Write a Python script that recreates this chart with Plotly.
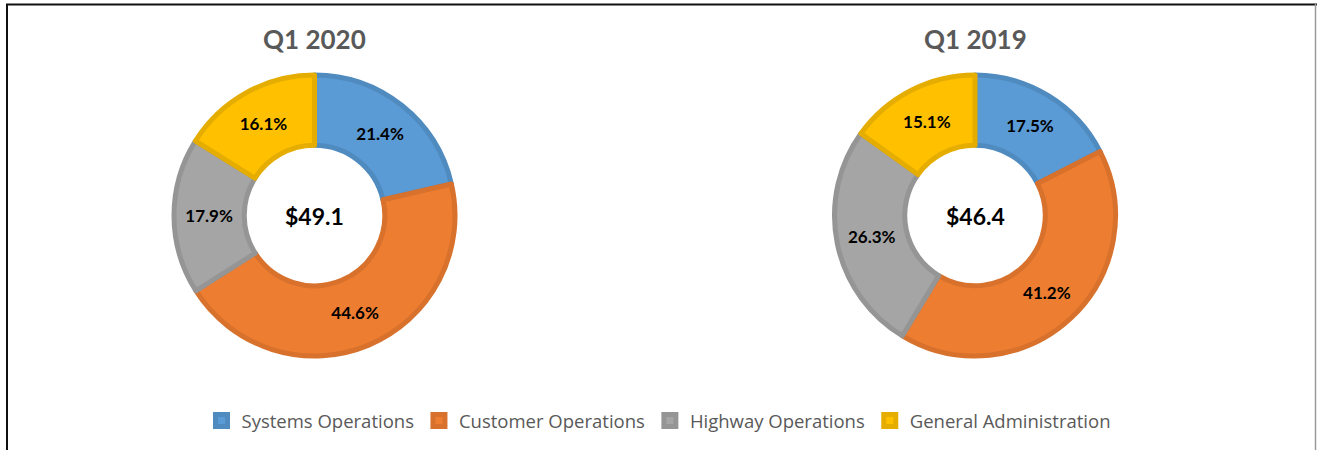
import plotly.graph_objects as go

categories = ["Systems Operations", "Customer Operations", "Highway Operations", "General Administration"]
q1_2020 = [21.4, 44.6, 17.9, 16.1]
q1_2019 = [17.5, 41.2, 26.3, 15.1]
titles = ["Q1 2020", "Q1 2019"]
totals = ["$49.1", "$46.4"]

fill_colors = ["#5B9BD5", "#ED7D31", "#A5A5A5", "#FFC000"]
line_colors = ["#508BC0", "#D7712C", "#959595", "#E5AD00"]

W, H = 1317, 450
FONT = "Lato, 'Noto Sans', sans-serif"

def dom(cx, cy, r):
    return dict(x=[(cx - r) / W, (cx + r) / W], y=[1 - (cy + r) / H, 1 - (cy - r) / H])

fig = go.Figure()
centers = [(314.5, 215.5), (975, 215.5)]
for i, vals in enumerate([q1_2020, q1_2019]):
    cx, cy = centers[i]
    fig.add_trace(go.Pie(
        labels=categories, values=vals, sort=False, direction="clockwise", rotation=0,
        hole=0.5, domain=dom(cx, cy, 140.5),
        marker=dict(colors=fill_colors, line=dict(color=line_colors, width=5)),
        text=[f"{v:.1f}%" for v in vals], textinfo="text", textposition="inside",
        insidetextorientation="horizontal",
        textfont=dict(family=FONT, size=17, color="#000000", weight="bold"),
        showlegend=(i == 0), hoverinfo="label+text",
    ))
    fig.add_annotation(x=cx / W, y=1 - 39 / H, xref="paper", yref="paper", text=titles[i],
                       xanchor="center", yanchor="middle",
                       showarrow=False, font=dict(family=FONT, size=26, color="#595959", weight="bold"))
    fig.add_annotation(x=cx / W, y=1 - cy / H, xref="paper", yref="paper", text=totals[i],
                       xanchor="center", yanchor="middle",
                       showarrow=False, font=dict(family=FONT, size=23, color="#000000", weight="bold"))

shapes = [
    dict(type="line", xref="paper", yref="paper", x0=6 / W, x1=1, y0=1 - 4.5 / H, y1=1 - 4.5 / H,
         line=dict(color="#111111", width=2)),
    dict(type="line", xref="paper", yref="paper", x0=7 / W, x1=7 / W, y0=0, y1=1 - 4 / H,
         line=dict(color="#111111", width=2)),
    dict(type="line", xref="paper", yref="paper", x0=1315.5 / W, x1=1315.5 / W, y0=0, y1=1 - 4 / H,
         line=dict(color="#9a9a9a", width=1.5)),
]

fig.update_layout(
    width=W, height=H, margin=dict(l=0, r=0, t=0, b=0),
    paper_bgcolor="white", plot_bgcolor="white", shapes=shapes,
    legend=dict(orientation="h", x=0.5, xanchor="center", y=1 - 421 / H, yanchor="middle",
                font=dict(family="'Open Sans', 'Noto Sans', sans-serif", size=18.5, color="#595959"),
                itemclick=False),
)

fig.write_html("out.html", config={"displayModeBar": False},
               post_script="document.body.style.margin='0px';document.body.style.overflow='hidden';")
